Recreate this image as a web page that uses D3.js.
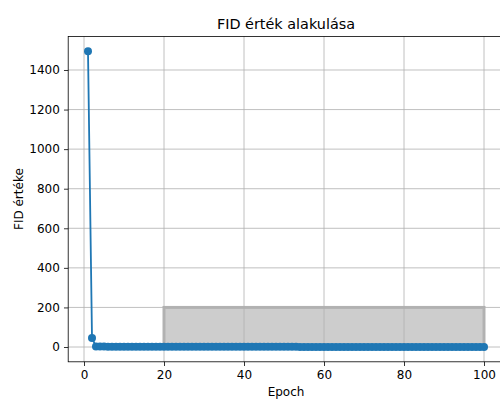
<!DOCTYPE html>
<html><head><meta charset="utf-8">
<script src="https://cdn.jsdelivr.net/npm/d3@7"></script>
<style>body{margin:0;background:#fff}svg{display:block}text{font-family:"DejaVu Sans",sans-serif;fill:#000}</style>
</head><body><svg id="c" width="500" height="399"></svg>
<script>
const epochs = d3.range(1, 101);
const fidValues = [1495, 45, 3.1, 2.4, 2.0, 1.8, 1.6, 1.5, 1.4, 1.3,
  1.3, 1.2, 1.2, 1.1, 1.1, 1.1, 1.0, 1.0, 1.0, 1.0,
  1.0, 0.9, 0.9, 0.9, 0.9, 0.9, 0.9, 0.9, 0.8, 0.8,
  0.8, 0.8, 0.8, 0.8, 0.8, 0.8, 0.8, 0.8, 0.7, 0.7,
  0.7, 0.7, 0.7, 0.7, 0.7, 0.7, 0.7, 0.7, 0.7, 0.7,
  0.7, 0.7, 0.7, 0.6, 0.6, 0.6, 0.6, 0.6, 0.6, 0.6,
  0.6, 0.6, 0.6, 0.6, 0.6, 0.6, 0.6, 0.6, 0.6, 0.6,
  0.6, 0.6, 0.6, 0.6, 0.6, 0.6, 0.6, 0.6, 0.6, 0.6,
  0.6, 0.6, 0.6, 0.6, 0.6, 0.6, 0.6, 0.6, 0.6, 0.6,
  0.6, 0.6, 0.6, 0.6, 0.6, 0.6, 0.6, 0.6, 0.6, 0.6];
const xTicks = [0, 20, 40, 60, 80, 100];
const yTicks = [0, 200, 400, 600, 800, 1000, 1200, 1400];
const zoomBox = {x0: 20, x1: 100, y0: 0, y1: 200};
const titleText = "FID érték alakulása";
const xLabel = "Epoch";
const yLabel = "FID értéke";

const svg = d3.select("#c");
const L = 68.2, R = 503.8, T = 36.4, B = 361.8;
const xr = [1, 100], yr = [0, 1495];
const xm = (xr[1]-xr[0])*0.05, ym = (yr[1]-yr[0])*0.05;
const x = d3.scaleLinear().domain([xr[0]-xm, xr[1]+xm]).range([L, R]);
const y = d3.scaleLinear().domain([yr[0]-ym, yr[1]+ym]).range([B, T]);

// zoom rectangle (below grid)
svg.append("rect")
  .attr("x", x(zoomBox.x0)).attr("y", y(zoomBox.y1))
  .attr("width", x(zoomBox.x1)-x(zoomBox.x0)).attr("height", y(zoomBox.y0)-y(zoomBox.y1))
  .attr("fill", "#cdcdcd").attr("stroke", "#b3b3b3").attr("stroke-width", 3);

// grid
const g = svg.append("g");
xTicks.forEach(t => g.append("line").attr("x1", x(t)).attr("x2", x(t)).attr("y1", T).attr("y2", B)
  .attr("stroke", "#b0b0b0").attr("stroke-width", 0.8));
yTicks.forEach(t => g.append("line").attr("x1", L).attr("x2", R).attr("y1", y(t)).attr("y2", y(t))
  .attr("stroke", "#b0b0b0").attr("stroke-width", 0.8));

// line + markers
const data = epochs.map((e, i) => [e, fidValues[i]]);
svg.append("path").datum(data)
  .attr("d", d3.line().x(d => x(d[0])).y(d => y(d[1])))
  .attr("fill", "none").attr("stroke", "#1f77b4").attr("stroke-width", 1.8);
svg.append("g").selectAll("circle").data(data).join("circle")
  .attr("cx", d => x(d[0])).attr("cy", d => y(d[1])).attr("r", 4).attr("fill", "#1f77b4");

// axes
const fmt = d3.format("d");
const xAxis = d3.axisBottom(x).tickValues(xTicks).tickFormat(fmt).tickSize(4.2).tickPadding(4.2);
const yAxis = d3.axisLeft(y).tickValues(yTicks).tickFormat(fmt).tickSize(4.2).tickPadding(4.2);
const xa = svg.append("g").attr("transform", `translate(0,${B})`).call(xAxis);
const ya = svg.append("g").attr("transform", `translate(${L},0)`).call(yAxis);
[xa, ya].forEach(a => {
  a.select(".domain").remove();
  a.selectAll("text").style("font-family", "DejaVu Sans").style("font-size", "12px").attr("fill", "#000");
  a.selectAll("line").attr("stroke", "#000").attr("stroke-width", 0.8);
});
// spines
svg.append("rect").attr("x", L).attr("y", T).attr("width", R-L).attr("height", B-T)
  .attr("fill", "none").attr("stroke", "#000").attr("stroke-width", 0.8);

svg.append("text").attr("x", (L+R)/2).attr("y", 29).attr("text-anchor", "middle")
  .style("font-size", "14.4px").text(titleText);
svg.append("text").attr("x", (L+R)/2).attr("y", 395.5).attr("text-anchor", "middle")
  .style("font-size", "12px").text(xLabel);
svg.append("text").attr("transform", `translate(22.5,${(T+B)/2}) rotate(-90)`).attr("text-anchor", "middle")
  .style("font-size", "12px").text(yLabel);
</script></body></html>
